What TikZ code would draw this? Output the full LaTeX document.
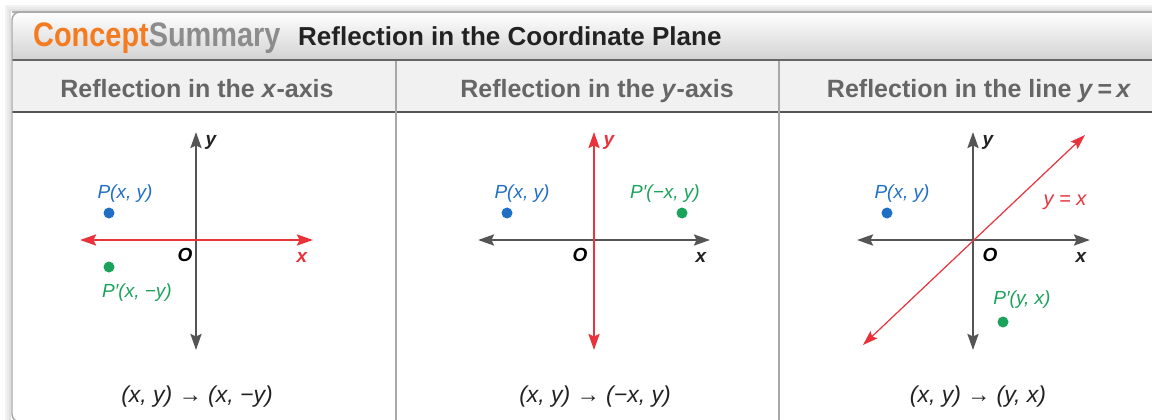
\documentclass[tikz,border=0pt]{standalone}
\usepackage{fontspec}
\setmainfont{Liberation Sans}
\newfontfamily\cond[FakeStretch=0.85]{Liberation Sans}
\usetikzlibrary{arrows.meta}
\definecolor{corange}{HTML}{F47B20}
\definecolor{cgray}{HTML}{8C8C8C}
\definecolor{hgray}{HTML}{666666}
\definecolor{tblack}{HTML}{222222}
\definecolor{axgray}{HTML}{555555}
\definecolor{cred}{HTML}{E8323C}
\definecolor{cblue}{HTML}{1F6FC5}
\definecolor{cgreen}{HTML}{1BA35B}
\definecolor{hdrfill}{HTML}{F1F1F1}
\definecolor{divgray}{HTML}{A8A8A8}
\tikzset{
  x=1pt, y=-1pt,
  axisline/.style={draw=axgray, line width=2.4pt, {Stealth[length=16pt,width=11pt,inset=2.5pt]}-{Stealth[length=16pt,width=11pt,inset=2.5pt]}},
  redaxis/.style={draw=cred, line width=2.4pt, {Stealth[length=16pt,width=11pt,inset=2.5pt]}-{Stealth[length=16pt,width=11pt,inset=2.5pt]}},
  diagline/.style={draw=cred, line width=1.2pt, {Stealth[length=15pt,width=10pt,inset=2.5pt]}-{Stealth[length=15pt,width=10pt,inset=2.5pt]}},
  ptdot/.style={circle, inner sep=0pt, minimum size=11pt},
  ptlab/.style={inner sep=0pt, anchor=base, font=\fontsize{19}{20}\selectfont\itshape},
  axlab/.style={inner sep=0pt, font=\fontsize{19}{20}\selectfont\bfseries\itshape},
  hdr/.style={inner sep=0pt, anchor=base, text=hgray, font=\fontsize{25}{27}\selectfont\bfseries},
  rule/.style={inner sep=0pt, anchor=base, text=tblack, font=\fontsize{23}{25}\selectfont\itshape},
}
\begin{document}
\begin{tikzpicture}
\useasboundingbox (0,0) rectangle (1152,420);
\clip (0,0) rectangle (1152,420);
\fill[white] (0,0) rectangle (1152,420);
% shadow
\foreach \d/\o in {6/0.05,4/0.08,2/0.12}{
  \draw[black, opacity=\o, line width=2pt] (1160,12-\d) -- (12-\d,12-\d) -- (12-\d,430);
}
% frame
\fill[white, rounded corners=8pt] (12,12) rectangle (1170,422);
% title bar
\shade[top color=white, middle color=gray!8, bottom color=gray!35] (12,12) rectangle (1170,60);
\draw[gray!60, line width=1.2pt] (12,12) -- (1170,12);
\draw[gray!80!black, line width=1.2pt] (12,60) -- (1170,60);
% header row
\fill[hdrfill] (12,61) rectangle (1170,112);
\draw[axgray, line width=1.6pt] (12,112) -- (1170,112);
% dividers
\draw[divgray, line width=1.2pt] (396,61) -- (396,425);
\draw[divgray, line width=1.2pt] (779,61) -- (779,425);
% outer frame line
\draw[gray!70, line width=1.4pt, rounded corners=8pt] (1170,12) -- (12,12) -- (12,422) -- (1170,422);

% title
\node[inner sep=0pt, anchor=base west, font=\fontsize{34}{36}\cond\bfseries] (ttl) at (33,47) {\textcolor{corange}{Concept}\textcolor{cgray}{Summary}};
\node[inner sep=0pt, anchor=base west, text=tblack, font=\fontsize{26}{28}\selectfont\bfseries] (ttl2) at (298,46) {Reflection in the Coordinate Plane};

% headers
\node[hdr] (h1) at (197,97) {Reflection in the \textit{x}-axis};
\node[hdr] (h2) at (597,97) {Reflection in the \textit{y}-axis};
\node[hdr] (h3) at (979,97) {Reflection in the line \textit{y}\,=\,\textit{x}};

% ---------- graph 1 ----------
\coordinate (a1l) at (80,240);
\coordinate (a1r) at (313,240);
\coordinate (a1t) at (196,132);
\coordinate (a1b) at (196,350);
\draw[axisline] (a1b) -- (a1t);
\draw[redaxis] (a1l) -- (a1r);
\node[axlab, text=tblack] (y1) at (211,142) {y};
\node[axlab, text=cred] (x1) at (302,257) {x};
\node[axlab, text=black] (o1) at (185,255) {O};
\node[ptdot, fill=cblue] (p1) at (109,213) {};
\node[ptdot, fill=cgreen] (q1) at (109,267) {};
\node[ptlab, text=cblue] (pl1) at (125,198) {P(x, y)};
\node[ptlab, text=cgreen] (ql1) at (137,297) {P′(x, −y)};
\node[rule] (r1) at (197,402) {(x, y) → (x, −y)};

% ---------- graph 2 ----------
\coordinate (a2l) at (478,240);
\coordinate (a2r) at (710,240);
\coordinate (a2t) at (594,132);
\coordinate (a2b) at (594,350);
\draw[axisline] (a2l) -- (a2r);
\draw[redaxis] (a2b) -- (a2t);
\node[axlab, text=cred] (y2) at (609,142) {y};
\node[axlab, text=tblack] (x2) at (701,257) {x};
\node[axlab, text=black] (o2) at (580,255) {O};
\node[ptdot, fill=cblue] (p2) at (507,213) {};
\node[ptdot, fill=cgreen] (q2) at (682,213) {};
\node[ptlab, text=cblue] (pl2) at (522,198) {P(x, y)};
\node[ptlab, text=cgreen] (ql2) at (665,198) {P′(−x, y)};
\node[rule] (r2) at (595,402) {(x, y) → (−x, y)};

% ---------- graph 3 ----------
\coordinate (a3l) at (857,240);
\coordinate (a3r) at (1090,240);
\coordinate (a3t) at (973,132);
\coordinate (a3b) at (973,350);
\coordinate (d3a) at (863,345);
\coordinate (d3b) at (1085,135);
\draw[axisline] (a3l) -- (a3r);
\draw[axisline] (a3b) -- (a3t);
\draw[diagline] (d3a) -- (d3b);
\node[axlab, text=tblack] (y3) at (988,142) {y};
\node[axlab, text=tblack] (x3) at (1081,257) {x};
\node[axlab, text=black] (o3) at (990,255) {O};
\node[ptdot, fill=cblue] (p3) at (887,213) {};
\node[ptdot, fill=cgreen] (q3) at (1003,322) {};
\node[ptlab, text=cblue] (pl3) at (902,198) {P(x, y)};
\node[ptlab, text=cgreen] (ql3) at (1022,304) {P′(y, x)};
\node[ptlab, text=cred, font=\fontsize{20}{21}\selectfont\itshape] (yx3) at (1065,205) {y = x};
\node[rule] (r3) at (978,402) {(x, y) → (y, x)};
\end{tikzpicture}
\end{document}
